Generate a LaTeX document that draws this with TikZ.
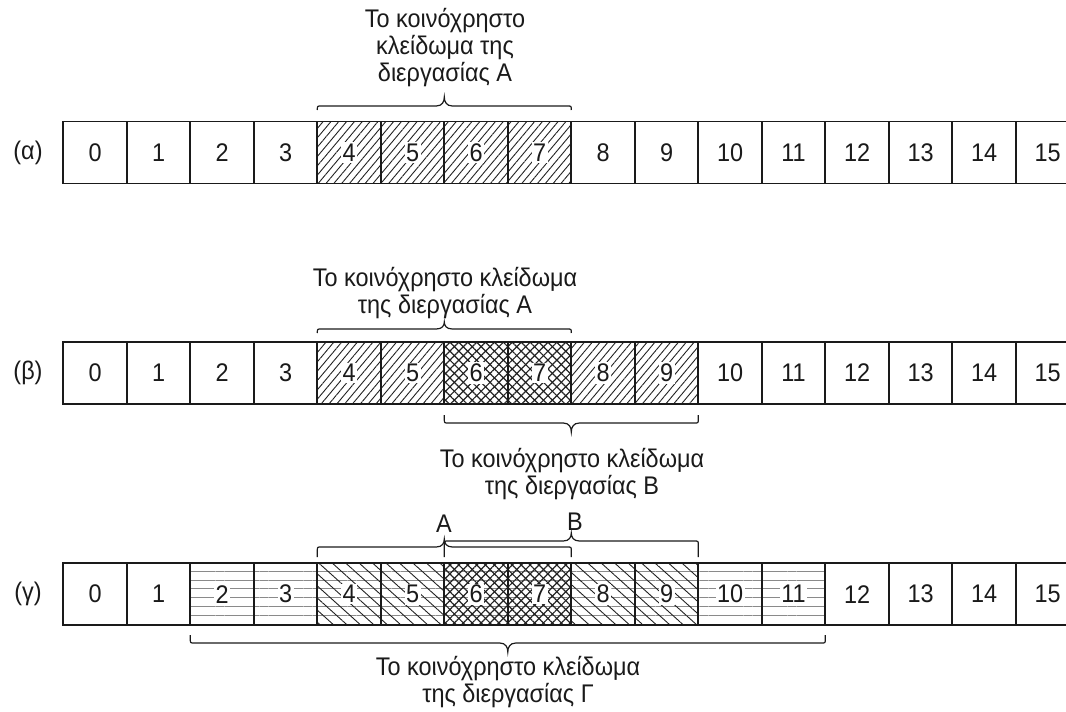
\documentclass[tikz,border=0pt]{standalone}
\usepackage{fontspec}
\setmainfont[FakeStretch=0.92]{Liberation Sans}
\usetikzlibrary{patterns.meta}
\definecolor{ink}{HTML}{1A1A1A}
\definecolor{hatch}{HTML}{222222}
\definecolor{lgray}{HTML}{8A8A8A}
\setlength{\fboxsep}{1.5pt}
\newcommand{\mybrace}[5]{%
  \pgfmathsetmacro\xm{(#1+#2)/2}%
  \pgfmathsetmacro\yc{#4+(#3-#4)/abs(#3-#4)*min(4,abs(#3-#4))}%
  \pgfmathsetmacro\ymid{(#4+#5)/2}%
  \draw[brc] (#1,#3) -- (#1,\yc) .. controls (#1,#4) .. (#1+4,#4) -- (\xm-8,#4)
    .. controls (\xm-2,#4) and (\xm,\ymid) .. (\xm,#5)
    .. controls (\xm,\ymid) and (\xm+2,#4) .. (\xm+8,#4) -- (#2-4,#4)
    .. controls (#2,#4) .. (#2,\yc) -- (#2,#3);}
\tikzset{
  fnt/.style={font=\fontsize{25.5}{27}\selectfont},
  cell/.style={draw=ink, line width=1.8pt, minimum width=63.5pt, minimum height=62pt,
    inner sep=0pt, fnt, text=ink},
  plain/.style={},
  ne/.style={pattern={Lines[angle=50,distance=6pt,line width=0.9pt]}, pattern color=hatch},
  cross/.style={preaction={pattern={Lines[angle=45,distance=6.3pt,line width=1.2pt]}, pattern color=hatch},
    pattern={Lines[angle=-45,distance=6.3pt,line width=1.2pt]}, pattern color=hatch},
  hz/.style={pattern={Lines[angle=0,distance=8.8pt,line width=0.9pt]}, pattern color=lgray},
  nw/.style={preaction={pattern={Lines[angle=0,distance=8.8pt,line width=0.9pt]}, pattern color=lgray},
    pattern={Lines[angle=-42,distance=9pt,line width=0.9pt]}, pattern color=hatch},
  hcross/.style={preaction={pattern={Lines[angle=0,distance=8.8pt,line width=0.9pt]}, pattern color=lgray},
    preaction={pattern={Lines[angle=45,distance=6.3pt,line width=1.2pt]}, pattern color=hatch},
    pattern={Lines[angle=-45,distance=6.3pt,line width=1.2pt]}, pattern color=hatch},
  txt/.style={fnt, text=ink, align=center, inner sep=0pt, anchor=base},
  rowlbl/.style={fnt, text=ink, inner sep=0pt},
  brc/.style={draw=ink, line width=1.2pt}
}
\begin{document}
\begin{tikzpicture}[x=1pt,y=-1pt]
\useasboundingbox (0,0) rectangle (1066,712);
\clip (0,0) rectangle (1066,712);
% row alpha
\node[rowlbl] (la) at (28,152.5) {(α)};
\foreach \s [count=\i from 0] in {plain,plain,plain,plain,ne,ne,ne,ne,plain,plain,plain,plain,plain,plain,plain,plain}
  \node[cell,\s] (a\i) at (95.05+63.5*\i,152.5) {\colorbox{white}{\i}};
\mybrace{317.3}{571.3}{110}{106}{97}
\node[txt] (ta) at (445,81.7) {Το κοινόχρηστο\\κλείδωμα της\\διεργασίας Α};
% row beta
\node[rowlbl] (lb) at (28,373) {(β)};
\foreach \s [count=\i from 0] in {plain,plain,plain,plain,ne,ne,cross,cross,ne,ne,plain,plain,plain,plain,plain,plain}
  \node[cell,\s] (b\i) at (95.05+63.5*\i,373) {\colorbox{white}{\i}};
\mybrace{317.3}{571.3}{333}{329}{322}
\node[txt] (tba) at (445,313) {Το κοινόχρηστο κλείδωμα\\της διεργασίας Α};
\mybrace{444.3}{698.3}{415}{423}{432}
\node[txt] (tbb) at (572,494) {Το κοινόχρηστο κλείδωμα\\της διεργασίας Β};
% row gamma
\node[rowlbl] (lc) at (28,594.2) {(γ)};
\foreach \s [count=\i from 0] in {plain,plain,hz,hz,nw,nw,hcross,hcross,nw,nw,hz,hz,plain,plain,plain,plain}
  \node[cell,\s] (c\i) at (95.05+63.5*\i,594.2) {\colorbox{white}{\i}};
\mybrace{317.3}{571.3}{557}{547}{539}
\mybrace{444.3}{698.3}{557}{541}{533}
\node[txt] (tca) at (444,532) {Α};
\node[txt] (tcb) at (575,530) {Β};
\mybrace{190.3}{825.3}{635}{643}{652}
\node[txt] (tcc) at (508,702) {Το κοινόχρηστο κλείδωμα\\της διεργασίας Γ};
\end{tikzpicture}
\end{document}
